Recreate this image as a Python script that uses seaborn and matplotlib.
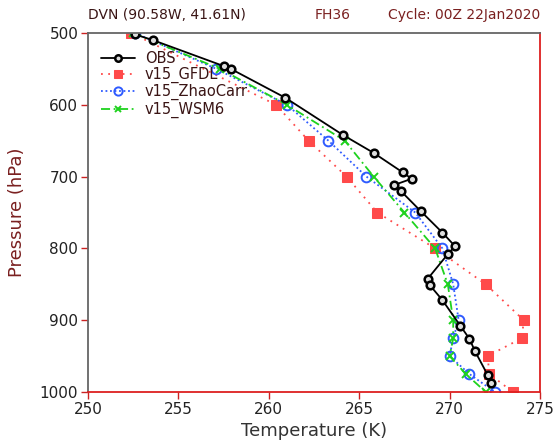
import matplotlib
matplotlib.use("Agg")
import matplotlib.pyplot as plt
import seaborn as sns
import pandas as pd

# ---- data ----
obs_t = [252.6, 253.6, 257.5, 257.9, 260.9, 264.1, 265.8, 267.4, 267.9, 266.9, 267.3,
         268.4, 269.6, 270.3, 269.9, 268.8, 268.9, 269.6, 270.6, 271.1, 271.4, 272.1, 272.3]
obs_p = [502, 510, 546, 550, 590, 642, 667, 694, 703, 712, 720,
         748, 778, 797, 808, 842, 851, 872, 908, 926, 943, 976, 987]

lev = [500, 550, 600, 650, 700, 750, 800, 850, 900, 925, 950, 975, 1000]
gfdl_p = [500, 600, 650, 700, 750, 800, 850, 900, 925, 950, 975, 1000]
gfdl_t = [252.4, 260.4, 262.2, 264.3, 266.0, 269.2, 272.0, 274.1, 274.0, 272.1, 272.2, 273.5]
zc_t = [252.6, 257.1, 261.0, 263.3, 265.4, 268.1, 269.6, 270.2, 270.5, 270.2, 270.0, 271.1, 272.5]
wsm_t = [252.5, 257.3, 261.0, 264.2, 265.8, 267.5, 269.2, 269.9, 270.2, 270.2, 270.0, 270.9, 272.0]

labels = ["OBS", "v15_GFDL", "v15_ZhaoCarr", "v15_WSM6"]
x_ticks = [250, 255, 260, 265, 270, 275]
y_ticks = [500, 600, 700, 800, 900, 1000]

sns.set_theme(style="white")
plt.rcParams['font.family'] = ['DejaVu Sans']

fig = plt.figure(figsize=(5.56, 4.47), dpi=100)
ax = fig.add_axes([88/556, 1-392/447, 452/556, 359/447])

df_obs = pd.DataFrame({"T": obs_t, "P": obs_p})
df_gfdl = pd.DataFrame({"T": gfdl_t, "P": gfdl_p})
df_zc = pd.DataFrame({"T": zc_t, "P": lev})
df_wsm = pd.DataFrame({"T": wsm_t, "P": lev})

sns.lineplot(data=df_gfdl, x="T", y="P", sort=False, estimator=None, ax=ax,
             color="#ff4a4a", linestyle=(0, (1, 3)), linewidth=1.3,
             marker="s", markersize=7, markeredgecolor="#ff4a4a", markerfacecolor="#ff4a4a",
             label=labels[1])
sns.lineplot(data=df_zc, x="T", y="P", sort=False, estimator=None, ax=ax,
             color="#2f5bff", linestyle=(0, (1, 1.5)), linewidth=1.3,
             marker="o", markersize=7, markeredgecolor="#2f5bff", markerfacecolor="none",
             markeredgewidth=1.4, label=labels[2])
sns.lineplot(data=df_wsm, x="T", y="P", sort=False, estimator=None, ax=ax,
             color="#1ed21e", linestyle=(0, (5, 2, 1, 2)), linewidth=1.3,
             marker="x", markersize=5.5, markeredgecolor="#1ed21e", markeredgewidth=1.4,
             label=labels[3])
sns.lineplot(data=df_obs, x="T", y="P", sort=False, estimator=None, ax=ax,
             color="black", linewidth=1.3,
             marker="o", markersize=5.5, markeredgecolor="black", markerfacecolor="#dddddd",
             markeredgewidth=1.8, label=labels[0])

ax.set_xlim(250, 275)
ax.set_ylim(1000, 500)
ax.set_xticks(x_ticks)
ax.set_yticks(y_ticks)
ax.tick_params(axis="both", direction="out", length=5, width=1, color="#cc2222",
               labelsize=11, labelcolor="#222222", bottom=True, left=True, pad=2)

for s in ["bottom", "right"]:
    ax.spines[s].set_color("#dd2020")
    ax.spines[s].set_linewidth(1.3)
for s in ["top", "left"]:
    ax.spines[s].set_color("#666666")
    ax.spines[s].set_linewidth(1.3)

ax.set_xlabel("Temperature (K)", fontsize=13, color="#333333", labelpad=4)
ax.set_ylabel("Pressure (hPa)", fontsize=13, color="#7a2020", labelpad=10)

# legend in desired order
handles, labs = ax.get_legend_handles_labels()
order = [labs.index(l) for l in labels]
leg = ax.legend([handles[i] for i in order], [labs[i] for i in order],
                loc="upper left", bbox_to_anchor=(0.01, 0.975), frameon=False,
                fontsize=10.5, handlelength=2.3, handletextpad=0.7, labelspacing=0.08,
                borderaxespad=0.2, markerscale=0.85)
for t in leg.get_texts():
    t.set_color("#3a1515")

fig.text(88/556, 1-15/447, "DVN (90.58W, 41.61N)", fontsize=10, color="#3a1515",
         ha="left", va="center")
fig.text(333/556, 1-15/447, "FH36", fontsize=10, color="#7a2020", ha="center", va="center")
fig.text(540/556, 1-15/447, "Cycle: 00Z 22Jan2020", fontsize=10, color="#7a2020",
         ha="right", va="center")

fig.savefig("out.png", dpi=100)
